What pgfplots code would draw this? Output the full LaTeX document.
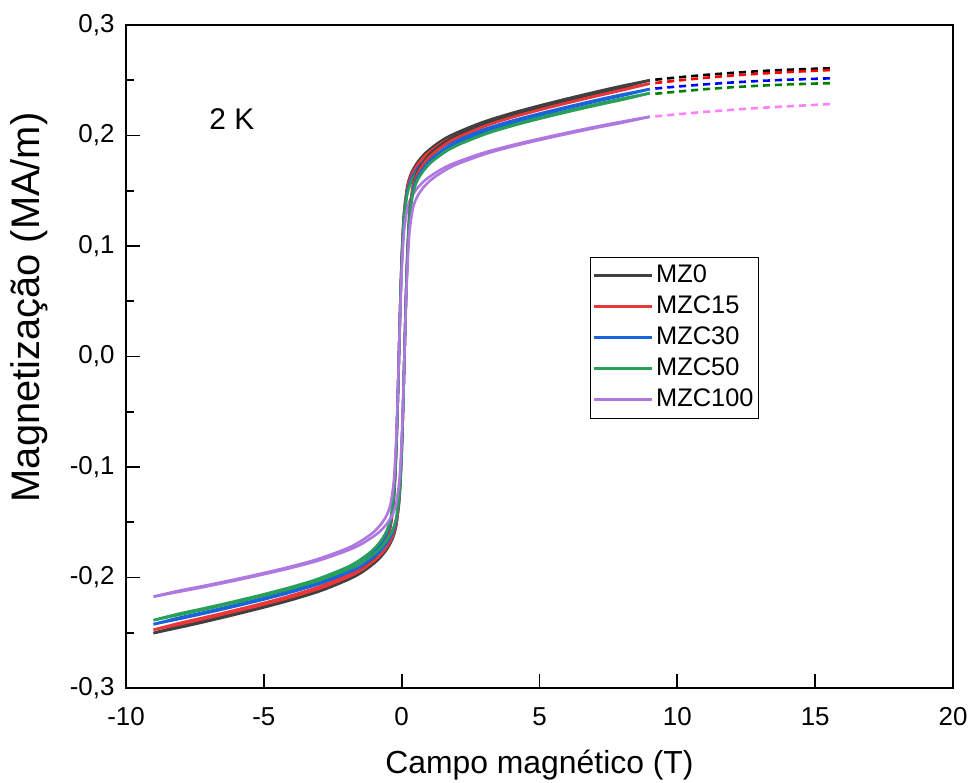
\documentclass[border=0pt]{standalone}
\usepackage{fontspec}
\setmainfont{Liberation Sans}
\usepackage{pgfplots}
\usepackage{pgfplotstable}
\pgfplotsset{compat=1.18}

\definecolor{cmz0}{RGB}{64,64,64}
\definecolor{cmz15}{RGB}{235,55,55}
\definecolor{cmz30}{RGB}{25,100,220}
\definecolor{cmz50}{RGB}{40,160,90}
\definecolor{cmz100}{RGB}{175,120,225}
\definecolor{dgreen}{RGB}{0,128,0}
\definecolor{dmag}{RGB}{255,128,255}

% descending branch (from +9 T to -9 T)
\pgfplotstableread{
x y0 y15 y30 y50 y100
9 0.2500 0.2470 0.2420 0.2383 0.2170
7.9 0.2444 0.2415 0.2366 0.2329 0.2121
6.9 0.2387 0.2358 0.2311 0.2275 0.2072
5.9 0.2327 0.2299 0.2253 0.2218 0.2020
4.9 0.2264 0.2237 0.2192 0.2158 0.1965
3.9 0.2196 0.2170 0.2126 0.2093 0.1906
2.9 0.2117 0.2092 0.2049 0.2018 0.1838
1.9 0.2015 0.1991 0.1951 0.1920 0.1749
1.4 0.1946 0.1923 0.1884 0.1855 0.1689
0.9 0.1850 0.1828 0.1791 0.1763 0.1606
0.6 0.1766 0.1745 0.1709 0.1683 0.1533
0.4 0.1686 0.1666 0.1632 0.1607 0.1463
0.3 0.1628 0.1608 0.1576 0.1551 0.1413
0.2 0.1535 0.1517 0.1486 0.1463 0.1332
0.1 0.1341 0.1325 0.1298 0.1278 0.1164
0.05 0.1158 0.1144 0.1121 0.1104 0.1005
0 0.0877 0.0866 0.0849 0.0836 0.0761
-0.05 0.0482 0.0476 0.0467 0.0459 0.0418
-0.1 0 0 0 0 0
-0.15 -0.0482 -0.0476 -0.0467 -0.0459 -0.0418
-0.2 -0.0877 -0.0866 -0.0849 -0.0836 -0.0761
-0.25 -0.1158 -0.1144 -0.1121 -0.1104 -0.1005
-0.3 -0.1341 -0.1325 -0.1298 -0.1278 -0.1164
-0.4 -0.1535 -0.1517 -0.1486 -0.1463 -0.1332
-0.5 -0.1628 -0.1608 -0.1576 -0.1551 -0.1413
-0.6 -0.1686 -0.1666 -0.1632 -0.1607 -0.1463
-0.8 -0.1766 -0.1745 -0.1709 -0.1683 -0.1533
-1.1 -0.1850 -0.1828 -0.1791 -0.1763 -0.1606
-1.6 -0.1946 -0.1923 -0.1884 -0.1855 -0.1689
-2.1 -0.2015 -0.1991 -0.1951 -0.1920 -0.1749
-3.1 -0.2117 -0.2092 -0.2049 -0.2018 -0.1838
-4.1 -0.2196 -0.2170 -0.2126 -0.2093 -0.1906
-5.1 -0.2264 -0.2237 -0.2192 -0.2158 -0.1965
-6.1 -0.2327 -0.2299 -0.2253 -0.2218 -0.2020
-7.1 -0.2387 -0.2358 -0.2311 -0.2275 -0.2072
-8.1 -0.2444 -0.2415 -0.2366 -0.2329 -0.2121
-9 -0.2503 -0.2473 -0.2423 -0.2386 -0.2173
}\descdata

% ascending branch (from -9 T to +9 T)
\pgfplotstableread{
x y0 y15 y30 y50 y100
-9 -0.2503 -0.2473 -0.2423 -0.2386 -0.2173
-7.9 -0.2444 -0.2415 -0.2366 -0.2329 -0.2121
-6.9 -0.2387 -0.2358 -0.2311 -0.2275 -0.2072
-5.9 -0.2327 -0.2299 -0.2253 -0.2218 -0.2020
-4.9 -0.2264 -0.2237 -0.2192 -0.2158 -0.1965
-3.9 -0.2196 -0.2170 -0.2126 -0.2093 -0.1906
-2.9 -0.2117 -0.2092 -0.2049 -0.2018 -0.1838
-1.9 -0.2015 -0.1991 -0.1951 -0.1920 -0.1749
-1.4 -0.1946 -0.1923 -0.1884 -0.1855 -0.1689
-0.9 -0.1850 -0.1828 -0.1791 -0.1763 -0.1606
-0.6 -0.1766 -0.1745 -0.1709 -0.1683 -0.1533
-0.4 -0.1686 -0.1666 -0.1632 -0.1607 -0.1463
-0.3 -0.1628 -0.1608 -0.1576 -0.1551 -0.1413
-0.2 -0.1535 -0.1517 -0.1486 -0.1463 -0.1332
-0.1 -0.1341 -0.1325 -0.1298 -0.1278 -0.1164
-0.05 -0.1158 -0.1144 -0.1121 -0.1104 -0.1005
0 -0.0877 -0.0866 -0.0849 -0.0836 -0.0761
0.05 -0.0482 -0.0476 -0.0467 -0.0459 -0.0418
0.1 0 0 0 0 0
0.15 0.0482 0.0476 0.0467 0.0459 0.0418
0.2 0.0877 0.0866 0.0849 0.0836 0.0761
0.25 0.1158 0.1144 0.1121 0.1104 0.1005
0.3 0.1341 0.1325 0.1298 0.1278 0.1164
0.4 0.1535 0.1517 0.1486 0.1463 0.1332
0.5 0.1628 0.1608 0.1576 0.1551 0.1413
0.6 0.1686 0.1666 0.1632 0.1607 0.1463
0.8 0.1766 0.1745 0.1709 0.1683 0.1533
1.1 0.1850 0.1828 0.1791 0.1763 0.1606
1.6 0.1946 0.1923 0.1884 0.1855 0.1689
2.1 0.2015 0.1991 0.1951 0.1920 0.1749
3.1 0.2117 0.2092 0.2049 0.2018 0.1838
4.1 0.2196 0.2170 0.2126 0.2093 0.1906
5.1 0.2264 0.2237 0.2192 0.2158 0.1965
6.1 0.2327 0.2299 0.2253 0.2218 0.2020
7.1 0.2387 0.2358 0.2311 0.2275 0.2072
8.1 0.2444 0.2415 0.2366 0.2329 0.2121
9 0.2500 0.2470 0.2420 0.2383 0.2170
}\ascdata

\pgfplotstableread{
x d0 d15 d30 d50 d100
9.2 0.2505 0.2475 0.2425 0.2378 0.2173
10 0.2525 0.2497 0.2443 0.2397 0.2192
11 0.2548 0.2522 0.2463 0.2419 0.2214
12 0.2567 0.2543 0.2480 0.2437 0.2233
13 0.2583 0.2560 0.2494 0.2451 0.2250
14 0.2595 0.2574 0.2505 0.2462 0.2264
15 0.2604 0.2586 0.2513 0.2470 0.2277
15.6 0.2608 0.2593 0.2518 0.2473 0.2285
}\extdata

\begin{document}
\begin{tikzpicture}
\useasboundingbox (-126bp,-95bp) rectangle (844bp,688bp);
\begin{axis}[
  scale only axis,
  width=827bp, height=663bp,
  xmin=-10, xmax=20, ymin=-0.3, ymax=0.3,
  xtick={-10,-5,0,5,10,15,20},
  xticklabels={-10,-5,0,5,10,15,20},
  ytick={-0.3,-0.2,-0.1,0,0.1,0.2,0.3},
  yticklabels={{-0,3},{-0,2},{-0,1},{0,0},{0,1},{0,2},{0,3}},
  minor ytick={-0.25,-0.15,-0.05,0.05,0.15,0.25},
  xtick pos=bottom, ytick pos=left,
  tick align=inside,
  major tick length=14bp, minor tick length=8bp,
  axis line style={line width=2.2bp},
  major tick style={black, line width=1.8bp},
  minor tick style={black, line width=1.8bp},
  ticklabel style={font=\fontsize{26}{30}\selectfont},
  xticklabel style={yshift=-16bp},
  yticklabel style={xshift=-8bp},
  xlabel={Campo magnético (T)},
  ylabel={Magnetização (MA/m)},
  xlabel style={font=\fontsize{32}{36}\selectfont, at={(axis description cs:0.5,-0.116)}, anchor=center},
  ylabel style={font=\fontsize{40}{44}\selectfont, at={(axis description cs:-0.117,0.574)}, anchor=center},
  legend style={at={(axis description cs:0.5611,0.6505)}, anchor=north west,
    draw=black, line width=1bp, inner xsep=2bp, inner ysep=3bp,
    font=\fontsize{25.5}{30}\selectfont,
    nodes={inner xsep=3bp, inner ysep=4bp, text height=18bp, text depth=5bp},
    cells={anchor=west}},
  legend image code/.code={\draw[#1] (0bp,0bp) -- (58bp,0bp);},
  every axis plot/.append style={line width=2.6bp, line join=round},
]
\addplot[color=cmz0, smooth] table[x=x,y=y0] {\descdata};
\addlegendentry{MZ0}
\addplot[color=cmz15, smooth] table[x=x,y=y15] {\descdata};
\addlegendentry{MZC15}
\addplot[color=cmz30, smooth] table[x=x,y=y30] {\descdata};
\addlegendentry{MZC30}
\addplot[color=cmz50, smooth] table[x=x,y=y50] {\descdata};
\addlegendentry{MZC50}
\addplot[color=cmz100, smooth] table[x=x,y=y100] {\descdata};
\addlegendentry{MZC100}

\addplot[forget plot, color=cmz0, smooth] table[x=x,y=y0] {\ascdata};
\addplot[forget plot, color=cmz15, smooth] table[x=x,y=y15] {\ascdata};
\addplot[forget plot, color=cmz30, smooth] table[x=x,y=y30] {\ascdata};
\addplot[forget plot, color=cmz50, smooth] table[x=x,y=y50] {\ascdata};
\addplot[forget plot, color=cmz100, smooth] table[x=x,y=y100] {\ascdata};

\addplot[forget plot, black, dash pattern=on 7bp off 5bp] table[x=x,y=d0] {\extdata};
\addplot[forget plot, red, dash pattern=on 7bp off 5bp] table[x=x,y=d15] {\extdata};
\addplot[forget plot, blue, dash pattern=on 7bp off 5bp] table[x=x,y=d30] {\extdata};
\addplot[forget plot, dgreen, dash pattern=on 7bp off 5bp] table[x=x,y=d50] {\extdata};
\addplot[forget plot, dmag, dash pattern=on 7bp off 5bp] table[x=x,y=d100] {\extdata};

\node[font=\fontsize{30}{34}\selectfont] at (axis cs:-6.16,0.215) {2 K};
\end{axis}
\end{tikzpicture}
\end{document}
